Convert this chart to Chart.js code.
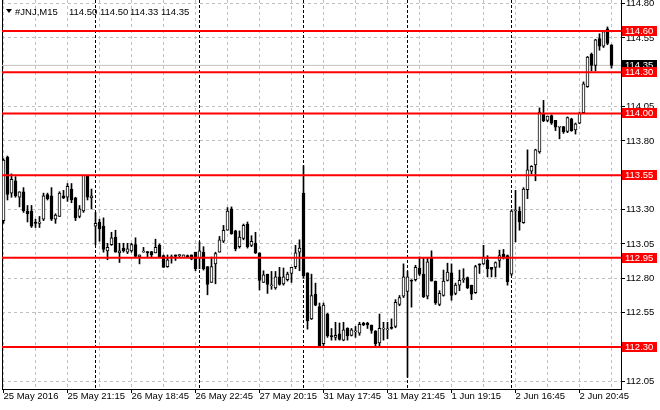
<!DOCTYPE html>
<html lang="en">
<head>
    <meta charset="UTF-8">
    <title>#JNJ,M15</title>
    <style>
        body {
            margin: 0;
            padding: 0;
            background: #ffffff;
        }
        #chart {
            display: block;
        }
    </style>
    <script src="https://cdn.jsdelivr.net/npm/chart.js"></script>
</head>
<body>
    <canvas id="chart" width="660" height="410"></canvas>

    <script>
        // M15 candles, 25 May 17:15 .. 2 Jun 22:45
        const opens = [
            113.22, 113.68, 113.42, 113.51, 113.39, 113.43, 113.29, 113.29, 113.21, 113.20,
            113.23, 113.41, 113.40, 113.23, 113.25, 113.40, 113.39, 113.45, 113.385, 113.25,
            113.29, 113.55, 113.385, 113.18, 113.21, 113.18, 113.00, 113.045, 113.10, 112.985,
            113.02, 112.99, 113.00, 113.045, 112.955, 112.99, 112.995, 112.995, 112.985, 113.04,
            112.965, 112.885, 112.95, 112.97, 112.965, 112.95, 112.965, 112.97, 112.99, 112.95,
            112.99, 112.885, 112.77, 112.905, 112.99, 113.07, 113.15, 113.305, 113.145, 113.03,
            113.09, 113.195, 113.04, 113.055, 112.985, 112.77, 112.83, 112.745, 112.73, 112.81,
            112.76, 112.79, 112.835, 112.885, 112.99, 113.42, 112.84, 112.505, 112.685, 112.595,
            112.325, 112.54, 112.38, 112.37, 112.395, 112.35, 112.435, 112.385, 112.41, 112.40,
            112.475, 112.475, 112.46, 112.415, 112.33, 112.43, 112.425, 112.44, 112.45, 112.61,
            112.67, 112.705, 112.785, 112.79, 112.875, 112.83, 112.67, 112.945, 112.78, 112.61,
            112.675, 112.785, 112.84, 112.69, 112.75, 112.79, 112.805, 112.75, 112.695, 112.905,
            112.905, 112.93, 112.88, 112.88, 112.93, 112.975, 112.965, 112.83, 113.29, 113.29,
            113.205, 113.445, 113.58, 113.625, 113.72, 114.00, 113.95, 113.985, 113.95, 113.90,
            113.905, 113.87, 113.96, 113.88, 113.93, 114.005, 114.195, 114.43, 114.35, 114.545,
            114.49, 114.615, 114.50
        ];
        const highs = [
            113.67, 113.69, 113.56, 113.54, 113.43, 113.46, 113.33, 113.33, 113.23, 113.25,
            113.42, 113.42, 113.46, 113.27, 113.43, 113.44, 113.49, 113.49, 113.39, 113.33,
            113.55, 113.55, 113.45, 113.28, 113.23, 113.24, 113.055, 113.135, 113.15, 113.055,
            113.055, 113.055, 113.055, 113.095, 112.97, 113.025, 112.995, 112.995, 113.085, 113.05,
            112.97, 112.97, 112.97, 112.97, 112.975, 112.97, 112.97, 112.97, 112.99, 113.065,
            113.03, 112.885, 112.955, 112.99, 113.105, 113.185, 113.315, 113.32, 113.15, 113.145,
            113.195, 113.21, 113.11, 113.135, 112.985, 112.855, 112.83, 112.85, 112.85, 112.88,
            112.875, 112.845, 112.88, 113.04, 113.08, 113.62, 112.84, 112.83, 112.765, 112.62,
            112.62, 112.545, 112.435, 112.48, 112.475, 112.48, 112.44, 112.435, 112.45, 112.48,
            112.48, 112.48, 112.46, 112.42, 112.54, 112.48, 112.48, 112.505, 112.645, 112.675,
            112.905, 112.85, 112.79, 112.895, 112.955, 112.945, 112.945, 113.00, 112.78, 112.71,
            112.86, 112.91, 112.905, 112.765, 112.86, 112.87, 112.81, 112.75, 112.895, 112.905,
            113.04, 112.965, 112.88, 112.92, 113.005, 113.01, 112.97, 113.30, 113.44, 113.32,
            113.46, 113.735, 113.62, 113.74, 114.04, 114.095, 113.98, 113.99, 113.95, 113.905,
            113.905, 113.975, 113.965, 113.93, 114.01, 114.23, 114.415, 114.44, 114.54, 114.58,
            114.60, 114.63, 114.50
        ];
        const lows = [
            113.20, 113.37, 113.39, 113.39, 113.32, 113.28, 113.21, 113.17, 113.17, 113.17,
            113.22, 113.37, 113.22, 113.20, 113.25, 113.38, 113.36, 113.35, 113.22, 113.24,
            113.28, 113.37, 113.305, 113.045, 113.07, 112.99, 112.935, 113.04, 112.99, 112.915,
            112.99, 112.98, 112.99, 112.95, 112.905, 112.99, 112.955, 112.95, 112.985, 112.95,
            112.88, 112.88, 112.91, 112.93, 112.95, 112.95, 112.95, 112.935, 112.855, 112.87,
            112.86, 112.68, 112.77, 112.76, 112.99, 113.06, 113.15, 113.12, 113.00, 113.02,
            113.08, 113.02, 113.03, 112.98, 112.715, 112.77, 112.69, 112.72, 112.72, 112.75,
            112.75, 112.78, 112.77, 112.87, 112.855, 112.80, 112.43, 112.50, 112.60, 112.30,
            112.31, 112.37, 112.35, 112.35, 112.35, 112.345, 112.35, 112.38, 112.37, 112.385,
            112.455, 112.435, 112.40, 112.305, 112.305, 112.35, 112.36, 112.43, 112.44, 112.60,
            112.66, 112.08, 112.59, 112.78, 112.82, 112.66, 112.65, 112.78, 112.61, 112.60,
            112.67, 112.78, 112.64, 112.68, 112.71, 112.77, 112.725, 112.645, 112.69, 112.835,
            112.90, 112.81, 112.81, 112.81, 112.88, 112.94, 112.75, 112.82, 113.065, 113.15,
            113.20, 113.38, 113.56, 113.51, 113.71, 113.94, 113.94, 113.92, 113.875, 113.815,
            113.855, 113.86, 113.87, 113.85, 113.925, 114.00, 114.19, 114.31, 114.31, 114.46,
            114.48, 114.50, 114.33
        ];
        const closes = [
            113.66, 113.41, 113.52, 113.40, 113.43, 113.29, 113.27, 113.18, 113.20, 113.21,
            113.40, 113.38, 113.23, 113.26, 113.42, 113.385, 113.47, 113.37, 113.24, 113.305,
            113.55, 113.39, 113.40, 113.20, 113.16, 113.01, 113.025, 113.095, 112.99, 113.00,
            113.00, 113.015, 113.045, 112.96, 112.97, 112.99, 112.985, 112.97, 113.025, 112.955,
            112.88, 112.935, 112.95, 112.96, 112.965, 112.97, 112.955, 112.94, 112.87, 113.00,
            112.87, 112.755, 112.885, 112.98, 113.08, 113.15, 113.29, 113.125, 113.015, 113.10,
            113.185, 113.03, 113.07, 112.985, 112.785, 112.825, 112.755, 112.745, 112.81, 112.755,
            112.81, 112.83, 112.88, 112.985, 113.02, 112.82, 112.49, 112.675, 112.605, 112.305,
            112.605, 112.38, 112.375, 112.385, 112.355, 112.425, 112.38, 112.425, 112.41, 112.465,
            112.46, 112.46, 112.42, 112.325, 112.435, 112.435, 112.425, 112.435, 112.625, 112.66,
            112.81, 112.81, 112.78, 112.88, 112.83, 112.665, 112.92, 112.78, 112.62, 112.69,
            112.78, 112.845, 112.675, 112.75, 112.785, 112.79, 112.73, 112.685, 112.885, 112.895,
            112.955, 112.87, 112.865, 112.915, 112.965, 112.95, 112.775, 113.29, 113.29, 113.21,
            113.45, 113.59, 113.615, 113.735, 114.01, 113.945, 113.98, 113.93, 113.90, 113.90,
            113.865, 113.97, 113.875, 113.925, 114.00, 114.215, 114.41, 114.35, 114.535, 114.49,
            114.595, 114.51, 114.35
        ];

        // bottom axis labels, one every 16 bars
        const timeLabels = [
            '25 May 2016', '25 May 21:15', '26 May 18:45', '26 May 22:45', '27 May 20:15',
            '31 May 17:45', '31 May 21:45', '1 Jun 19:15', '2 Jun 16:45', '2 Jun 20:45'
        ];
        const dayStarts = [23, 49, 75, 101, 127];   // first bar of each session
        const priceTicks = [112.05, 112.30, 112.55, 112.80, 113.05, 113.30, 113.55, 113.80, 114.05, 114.30, 114.55, 114.80];
        const levels = [114.60, 114.30, 114.00, 113.55, 112.95, 112.30];
        const lastPrice = 114.35;
        const header = ['#JNJ,M15', '114.50', '114.50', '114.33', '114.35'];

        const FONT = "'Liberation Sans', Arial, sans-serif";
        const X_MIN = -0.375, X_MAX = 154.375;
        const Y_MIN = 111.9943, Y_MAX = 114.8257;

        const bars = opens.map((o, i) => i);
        const wickData = bars.map(i => ({ x: i, y: [lows[i], highs[i]] }));
        const bodyData = bars.map(i => ({ x: i, y: [opens[i], closes[i]] }));
        const bodyColors = bars.map(i => closes[i] >= opens[i] ? '#ffffff' : '#000000');

        const levelSets = levels.map(lv => ({
            type: 'line',
            data: [{ x: X_MIN, y: lv }, { x: X_MAX, y: lv }],
            borderColor: '#ff0000',
            borderWidth: 2,
            pointRadius: 0,
            order: 0
        }));

        // separators, header and price boxes
        const extras = {
            id: 'extras',
            beforeDatasetsDraw(chart) {
                const { ctx, chartArea: a, scales: { x } } = chart;
                ctx.save();
                ctx.strokeStyle = '#000';
                ctx.lineWidth = 1;
                ctx.setLineDash([3, 2]);
                dayStarts.forEach(i => {
                    const px = x.getPixelForValue(i);
                    ctx.beginPath();
                    ctx.moveTo(px, a.top);
                    ctx.lineTo(px, a.bottom);
                    ctx.stroke();
                });
                ctx.setLineDash([]);
                ctx.beginPath();
                ctx.moveTo(a.left + 0.5, a.top);
                ctx.lineTo(a.left + 0.5, a.bottom);
                ctx.stroke();
                ctx.restore();
            },
            afterDraw(chart) {
                const { ctx, chartArea: a, scales: { y } } = chart;
                ctx.save();
                ctx.font = '9.5px ' + FONT;
                ctx.textBaseline = 'middle';

                // header
                ctx.fillStyle = '#000';
                ctx.beginPath();
                ctx.moveTo(6, 9);
                ctx.lineTo(12, 9);
                ctx.lineTo(9, 13);
                ctx.closePath();
                ctx.fill();
                const hx = [15, 69, 100, 130, 161];
                header.forEach((t, k) => ctx.fillText(t, hx[k], 12));

                // bid label
                let py = y.getPixelForValue(lastPrice);
                ctx.fillStyle = '#000';
                ctx.fillRect(a.right + 1, Math.round(py) - 5, 35, 10);
                ctx.fillStyle = '#fff';
                ctx.fillText(lastPrice.toFixed(2), a.right + 4, Math.round(py));

                levels.forEach(lv => {
                    py = y.getPixelForValue(lv);
                    ctx.fillStyle = '#ff0000';
                    ctx.fillRect(a.right + 1, Math.round(py) - 5, 35, 10);
                    ctx.fillStyle = '#fff';
                    ctx.fillText(lv.toFixed(2), a.right + 4, Math.round(py));
                });
                ctx.restore();
            }
        };

        new Chart(document.getElementById('chart'), {
            type: 'bar',
            data: {
                datasets: [
                    ...levelSets,
                    {
                        type: 'line',
                        data: [{ x: X_MIN, y: lastPrice }, { x: X_MAX, y: lastPrice }],
                        borderColor: '#c0c0c0',
                        borderWidth: 1,
                        pointRadius: 0,
                        order: 3
                    },
                    {
                        data: bodyData,
                        backgroundColor: bodyColors,
                        borderColor: '#000',
                        borderWidth: 1,
                        borderSkipped: false,
                        barThickness: 3,
                        minBarLength: 1,
                        grouped: false,
                        order: 1
                    },
                    {
                        data: wickData,
                        backgroundColor: '#000',
                        borderWidth: 0,
                        barThickness: 1,
                        grouped: false,
                        order: 2
                    }
                ]
            },
            options: {
                responsive: false,
                animation: false,
                devicePixelRatio: 1,
                layout: { padding: { left: 2, top: 0, right: 0, bottom: 0 } },
                plugins: {
                    legend: { display: false },
                    tooltip: { enabled: false }
                },
                scales: {
                    x: {
                        type: 'linear',
                        min: X_MIN,
                        max: X_MAX,
                        offset: false,
                        afterFit: s => {
                            s.height = 21;
                            s.paddingLeft = 0;
                            s.paddingRight = 0;
                        },
                        afterBuildTicks: s => {
                            const t = [];
                            for (let i = 0; i <= 152; i += 8) t.push({ value: i });
                            s.ticks = t;
                        },
                        ticks: {
                            autoSkip: false,
                            maxRotation: 0,
                            minRotation: 0,
                            align: 'start',
                            padding: -2,
                            color: '#000',
                            font: { family: FONT, size: 9.5 },
                            callback: v => (v % 16 === 0 ? timeLabels[v / 16] : '')
                        },
                        grid: {
                            offset: false,
                            color: '#c0c0c0',
                            tickLength: 4,
                            tickColor: c => (c.tick && c.tick.value % 16 === 0 ? '#000' : 'rgba(0,0,0,0)')
                        },
                        border: { display: true, color: '#000', dash: [3, 3] }
                    },
                    y: {
                        position: 'right',
                        min: Y_MIN,
                        max: Y_MAX,
                        afterFit: s => {
                            s.width = 39;
                            s.paddingTop = 0;
                            s.paddingBottom = 0;
                        },
                        afterBuildTicks: s => { s.ticks = priceTicks.map(v => ({ value: v })); },
                        ticks: {
                            padding: 1,
                            color: '#000',
                            font: { family: FONT, size: 9.5 },
                            callback: v => v.toFixed(2)
                        },
                        grid: {
                            color: '#c0c0c0',
                            tickLength: 4,
                            tickColor: '#000'
                        },
                        border: { display: true, color: '#000', dash: [3, 3] }
                    }
                }
            },
            plugins: [extras]
        });
    </script>
</body>
</html>
